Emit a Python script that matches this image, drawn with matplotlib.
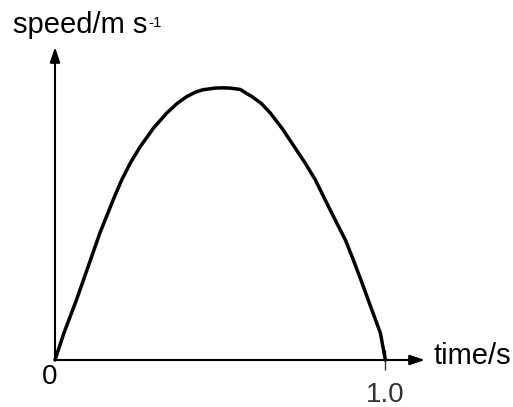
import matplotlib.pyplot as plt
import matplotlib

matplotlib.rcParams['font.family'] = ['Liberation Sans', 'DejaVu Sans']

# values (speed in relative units, peak = 1)
time_s = [0.0, 0.027, 0.065, 0.100, 0.136, 0.176, 0.202, 0.230, 0.258, 0.298,
          0.338, 0.370, 0.399, 0.425, 0.448, 0.485, 0.506, 0.530, 0.561, 0.579,
          0.596, 0.625, 0.652, 0.688, 0.722, 0.756, 0.788, 0.818, 0.848, 0.879,
          0.903, 0.926, 0.948, 0.968, 0.985, 1.0]
speed = [0.0, 0.099, 0.221, 0.342, 0.467, 0.588, 0.662, 0.728, 0.784, 0.852,
         0.907, 0.943, 0.968, 0.984, 0.993, 0.999, 1.0, 0.999, 0.994, 0.980,
         0.968, 0.942, 0.907, 0.850, 0.788, 0.726, 0.662, 0.588, 0.515, 0.441,
         0.368, 0.294, 0.221, 0.155, 0.099, 0.0]
xticks = [1.0]
xtick_labels = ['1.0']

W, H = 513, 407
fig = plt.figure(figsize=(W / 100, H / 100), dpi=100)
ax = fig.add_axes([55 / W, 47 / H, (425 - 55) / W, (360 - 47) / H])
ax.set_xlim(0, 1.12)
ax.set_ylim(0, 1.15)

ax.plot(time_s, speed, color='black', lw=2.5, solid_capstyle='round',
        solid_joinstyle='round', clip_on=False, zorder=3)

for s in ax.spines.values():
    s.set_visible(False)

# arrowed axes
arrow = dict(arrowstyle='-|>,head_length=0.9,head_width=0.3', lw=1.5, color='black',
             shrinkA=0, shrinkB=0)
ax.annotate('', xy=(1, 0), xytext=(0, 0), xycoords='axes fraction', arrowprops=arrow)
ax.annotate('', xy=(0, 1), xytext=(0, 0), xycoords='axes fraction', arrowprops=arrow)

ax.set_yticks([])
ax.set_xticks(xticks, xtick_labels)
ax.tick_params(axis='x', direction='inout', length=14.4, width=1.0, color='#333333',
               labelsize=20, labelcolor='#333333', pad=9)

fig.text(13 / W, 1 - 33 / H, 'speed/m s', fontsize=21, va='baseline', ha='left')
fig.text(148 / W, 1 - 27 / H, '-1', fontsize=11, va='baseline', ha='left')
fig.text(433 / W, 1 - 356 / H, 'time/s', fontsize=21, va='center', ha='left')
fig.text(49.5 / W, 1 - 377 / H, '0', fontsize=20, va='center', ha='center')

fig.savefig('out.png', dpi=100)
